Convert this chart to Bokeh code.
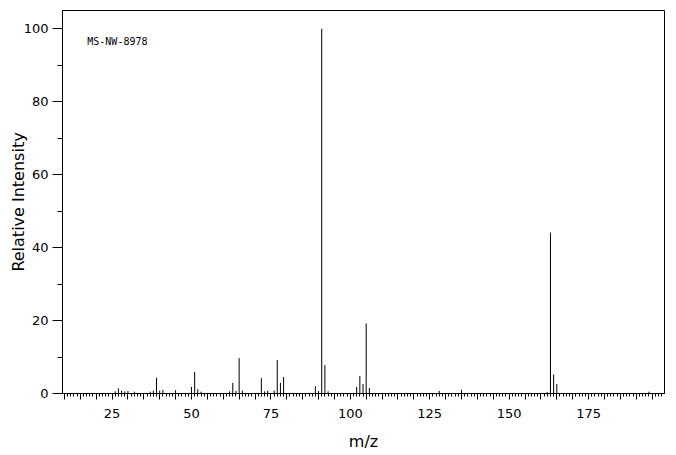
from bokeh.plotting import figure
from bokeh.models import (Range1d, SingleIntervalTicker, LinearAxis,
                          CustomJSTickFormatter, Label, ColumnDataSource)
from bokeh.embed import file_html
from bokeh.resources import INLINE

# ---- data ----
mz = [26, 27, 28, 29, 30, 32, 37, 38, 39, 40, 41, 45,
      50, 51, 52, 53, 62, 63, 64, 65, 66, 72, 73, 74, 76, 77, 78, 79,
      89, 90, 91, 92, 93, 102, 103, 104, 105, 106, 128, 135,
      162, 163, 164, 165, 194]
intensity = [0.6, 1.4, 0.8, 0.6, 0.7, 0.5, 0.5, 0.8, 4.3, 0.8, 1.0, 0.9,
             1.8, 5.9, 1.2, 0.5, 0.6, 2.9, 0.7, 9.7, 0.8, 4.2, 0.6, 0.8, 0.8, 9.2, 2.9, 4.5,
             2.0, 0.7, 100.0, 7.8, 0.6, 1.8, 4.8, 2.6, 19.2, 1.5, 0.7, 1.0,
             0.4, 44.1, 5.2, 2.6, 0.5]
base = [0.0] * len(mz)
x_limits = (9.4, 198.9)
y_limits = (0, 105)
sample_id = "MS-NW-8978"

FONT = "DejaVu Sans"

p = figure(width=668, height=453, output_backend="svg", toolbar_location=None,
           x_range=Range1d(*x_limits), y_range=Range1d(*y_limits),
           min_border_left=62, min_border_right=4, min_border_top=10,
           min_border_bottom=60, x_axis_type=None, y_axis_type=None)
p.grid.visible = False
p.outline_line_color = "black"
p.outline_line_alpha = 1
p.outline_line_width = 1
p.background_fill_color = "white"
p.border_fill_color = "white"

src = ColumnDataSource(dict(mz=mz, y0=base, y1=intensity))
p.segment(x0="mz", y0="y0", x1="mz", y1="y1", source=src,
          line_color="black", line_width=1)

# x axis: ticks every 5 (medium), minor every 1, labels at multiples of 25
xax = LinearAxis(ticker=SingleIntervalTicker(interval=5, num_minor_ticks=5),
                 formatter=CustomJSTickFormatter(code="return (tick % 25 == 0) ? tick.toFixed(0) : '';"))
xax.major_tick_out = 6
xax.major_tick_in = 0
xax.minor_tick_out = 3
xax.minor_tick_in = 0
xax.axis_line_color = "black"
xax.major_tick_line_color = "black"
xax.minor_tick_line_color = "black"
xax.major_label_text_font = FONT
xax.major_label_text_font_size = "13px"
xax.major_label_text_color = "black"
xax.major_label_standoff = 9
xax.axis_label = "m/z"
xax.axis_label_text_font = FONT
xax.axis_label_text_font_size = "16px"
xax.axis_label_text_font_style = "normal"
xax.axis_label_text_color = "black"
xax.axis_label_standoff = 11
p.add_layout(xax, "below")

# long ticks at multiples of 25
xax2 = LinearAxis(ticker=SingleIntervalTicker(interval=25, num_minor_ticks=0),
                  fixed_location=0)
xax2.major_tick_out = 10
xax2.major_tick_in = 0
xax2.minor_tick_out = 0
xax2.axis_line_color = None
xax2.major_tick_line_color = "black"
xax2.major_label_text_font_size = "0px"
xax2.major_label_text_alpha = 0
p.add_layout(xax2, "below")

# y axis
yax = LinearAxis(ticker=SingleIntervalTicker(interval=20, num_minor_ticks=2))
yax.major_tick_out = 10
yax.major_tick_in = 0
yax.minor_tick_out = 5
yax.minor_tick_in = 0
yax.axis_line_color = "black"
yax.major_tick_line_color = "black"
yax.minor_tick_line_color = "black"
yax.major_label_text_font = FONT
yax.major_label_text_font_size = "13px"
yax.major_label_text_color = "black"
yax.major_label_standoff = 4
yax.axis_label = "Relative Intensity"
yax.axis_label_text_font = FONT
yax.axis_label_text_font_size = "16px"
yax.axis_label_text_font_style = "normal"
yax.axis_label_text_color = "black"
yax.axis_label_standoff = -7
p.add_layout(yax, "left")

p.add_layout(Label(x=17.2, y=96.4, text=sample_id, text_font="DejaVu Sans Mono",
                   text_font_size="10px", text_baseline="middle", text_color="black"))

open("out.html", "w").write(file_html(p, INLINE))
